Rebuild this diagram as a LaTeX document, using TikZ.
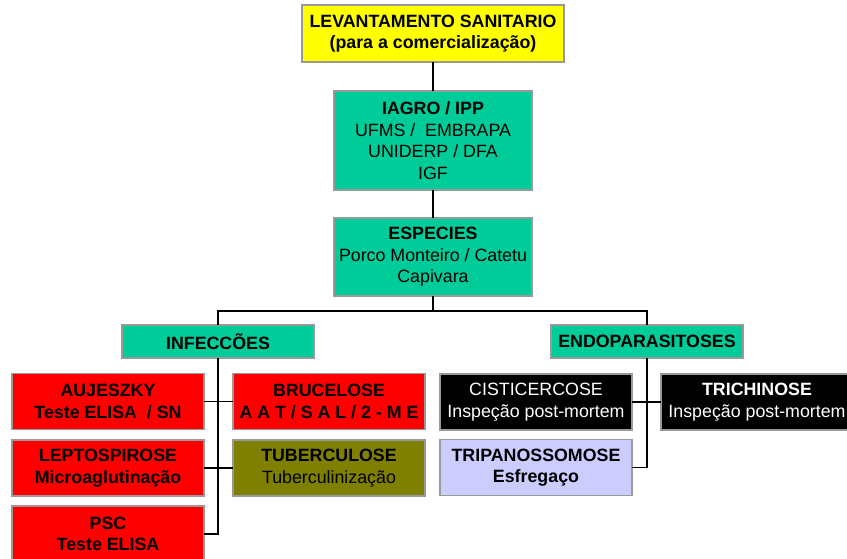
\documentclass[tikz,border=0pt]{standalone}
\usepackage{fontspec}
\setmainfont{Liberation Sans}
\usepackage{tikz}
\usetikzlibrary{calc}

\definecolor{levyellow}{HTML}{FFFF00}
\definecolor{orggreen}{HTML}{00CC99}
\definecolor{infred}{HTML}{FF0000}
\definecolor{tubolive}{HTML}{808000}
\definecolor{triplilac}{HTML}{CCCCFF}
\definecolor{boxrim}{HTML}{999999}

\begin{document}
\begin{tikzpicture}[x=1pt,y=-1pt,
    every node/.style={inner sep=0,outer sep=0,align=center,
        font=\fontsize{17.8}{21.6}\selectfont},
    box/.style={draw=boxrim,line width=1.1pt,minimum width=192,minimum height=56},
    link/.style={line width=1.1pt}]
    \useasboundingbox (0,0) rectangle (847,559);
    % top of the tree
    \node[box,fill=levyellow,minimum width=262,minimum height=57](lev) at (433,33.5)
        {\textbf{LEVANTAMENTO SANITARIO}\\\textbf{(para a comercialização)}};
    \node[box,fill=orggreen,minimum width=198,minimum height=99](org) at (433,140.5)
        {\textbf{IAGRO / IPP}\\UFMS / \ EMBRAPA\\UNIDERP / DFA\\IGF};
    \node[box,fill=orggreen,minimum width=198,minimum height=78](esp) at (433,257)
        {\textbf{ESPECIES}\\Porco Monteiro / Catetu\\Capivara};
    \coordinate(split) at (433,311);
    \node[box,fill=orggreen,minimum height=33](inf) at (218,341.5) {\textbf{INFECCÕES}};
    \node[box,fill=orggreen,minimum height=33](endo) at (647,341.5) {\textbf{ENDOPARASITOSES}};
    % infeccoes
    \node[box,fill=infred](auj) at (108,401.5) {\textbf{AUJESZKY}\\\textbf{Teste ELISA \ / SN}};
    \node[box,fill=infred](bru) at (329,401.5) {\textbf{BRUCELOSE}\\\textbf{A A T / S A L / 2 - M E}};
    \node[box,fill=infred](lep) at (108,468) {\textbf{LEPTOSPIROSE}\\\textbf{Microaglutinação}};
    \node[box,fill=tubolive](tub) at (329,468) {\textbf{TUBERCULOSE}\\Tuberculinização};
    \node[box,fill=infred](psc) at (108,534) {\textbf{PSC}\\\textbf{Teste ELISA}};
    % endoparasitoses
    \node[box,fill=black,text=white](cis) at (536,402) {CISTICERCOSE\\Inspeção post-mortem};
    \node[box,fill=black,text=white](tri) at (757,402) {\textbf{TRICHINOSE}\\Inspeção post-mortem};
    \node[box,fill=triplilac](tripa) at (536,467.5) {\textbf{TRIPANOSSOMOSE}\\\textbf{Esfregaço}};

    \draw[link] (lev) -- (org);
    \draw[link] (org) -- (esp);
    \draw[link] (esp) -- (split);
    \draw[link] (inf.north) |- (split) -| (endo.north);
    \draw[link] (inf.south) |- (psc.east);
    \draw[link] (auj.east) -- (bru.west);
    \draw[link] (lep.east) -- (tub.west);
    \draw[link] (endo.south) |- (tripa.east);
    \draw[link] (cis.east) -- (tri.west);
\end{tikzpicture}
\end{document}
